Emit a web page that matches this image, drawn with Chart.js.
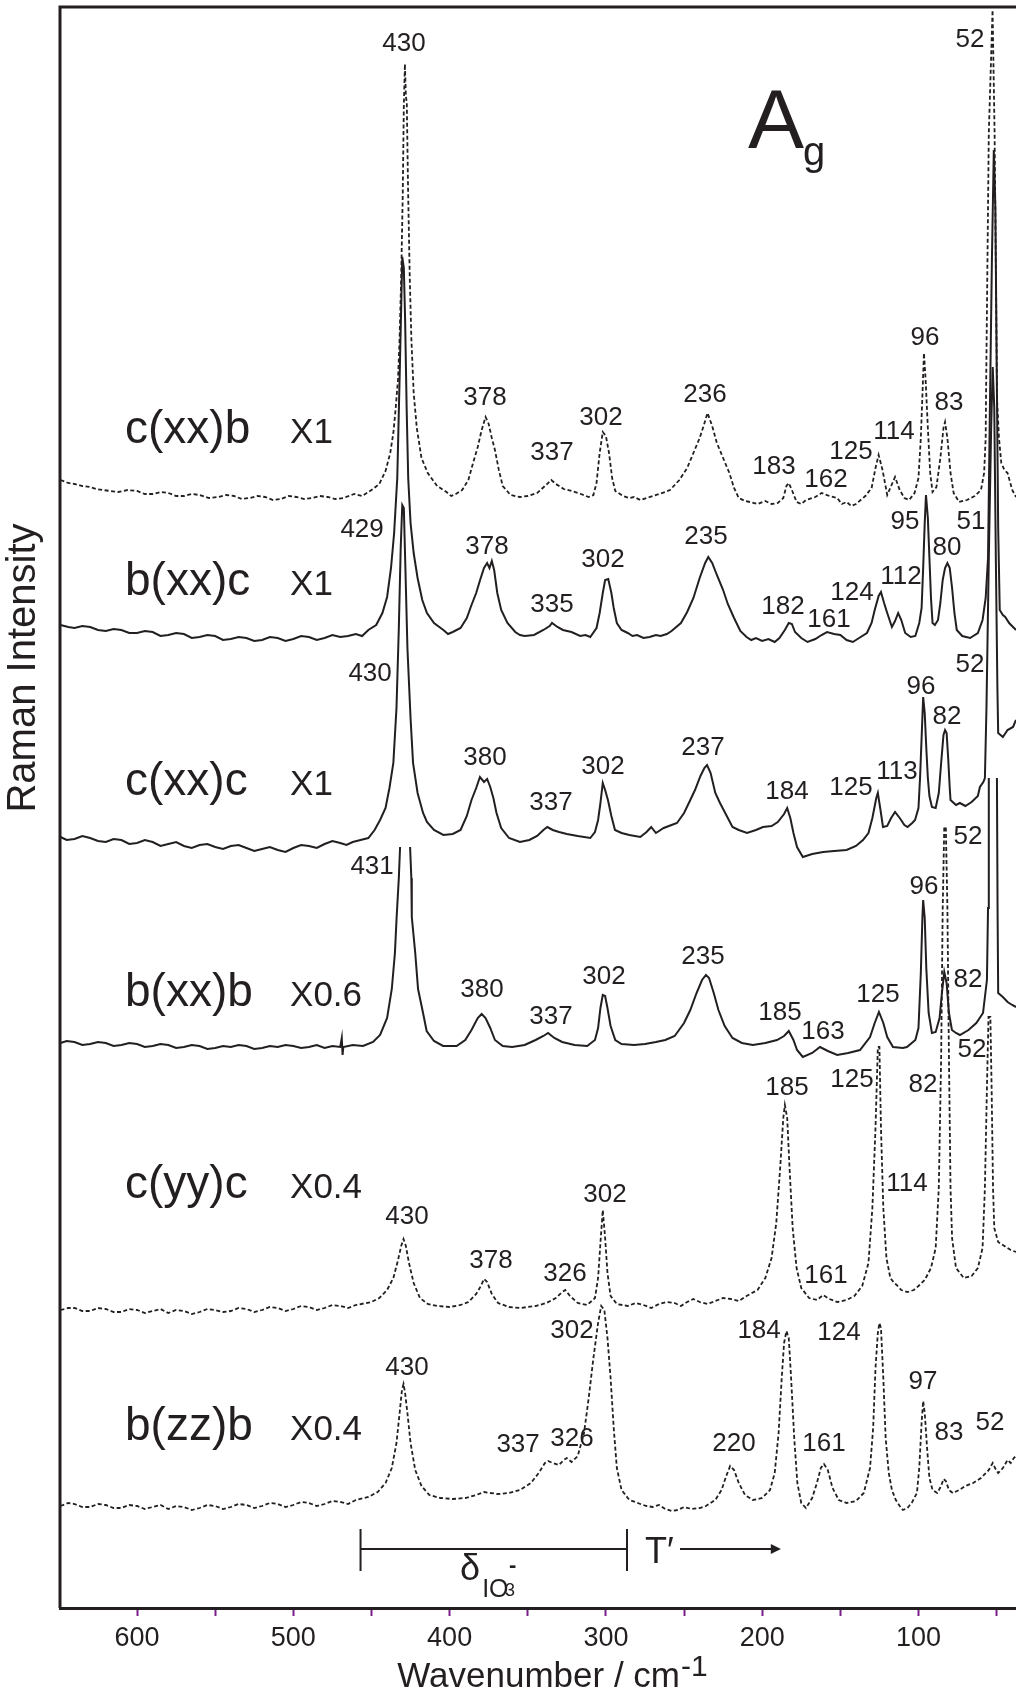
<!DOCTYPE html>
<html>
<head>
<meta charset="utf-8">
<script src="https://cdn.jsdelivr.net/npm/chart.js@4"></script>
<style>
  html, body { margin: 0; padding: 0; background: #fff; }
  #wrap { width: 1016px; height: 1693px; }
</style>
</head>
<body>
<div id="wrap"><canvas id="chart" width="1016" height="1693"></canvas></div>
<script>
// spectra as [wavenumber cm-1, intensity (offset, arb. units)]
const cxxb = [[649,1128],[644,1125],[640,1124],[635,1122],[630,1121],[626,1119],[622,1118],[617,1117],[612,1116],[606,1118],[600,1117],[595,1114],[590,1114],[585,1116],[580,1115],[575,1112],[570,1112],[565,1114],[560,1113],[554,1110],[548,1111],[543,1113],[538,1112],[533,1109],[528,1110],[523,1112],[518,1111],[513,1108],[508,1109],[503,1112],[498,1111],[493,1109],[488,1110],[483,1112],[478,1111],[473,1109],[468,1110],[461,1114],[456,1112],[450,1118],[445,1124],[441,1137],[438,1155],[436,1175],[434.5,1200],[433,1229],[432,1270],[431,1330],[430,1413],[429.3,1502],[428.6,1544],[428,1512],[427.4,1505],[426.6,1420],[425.5,1330],[424.5,1270],[423,1215],[421,1180],[418,1150],[414,1135],[408,1122],[402,1116],[399,1112],[396,1114],[392,1118],[388,1128],[385,1145],[382,1161],[379.5,1178],[377,1191],[375,1184],[373,1170],[371,1158],[368.5,1138],[366,1122],[361,1113],[355,1111],[350,1112],[344,1115],[339,1122],[335,1128],[332,1124],[327,1119],[322,1117],[316,1114],[311,1111],[308,1113],[306,1125],[304,1155],[302,1176],[300,1172],[298,1155],[296,1130],[294,1117],[289,1112],[285,1110],[282,1111],[278,1108],[274,1110],[270,1112],[266,1114],[262,1116],[259,1118],[253,1128],[248,1140],[244,1155],[240,1170],[237.5,1182],[235,1195],[232,1182],[229,1165],[225,1150],[221,1135],[218,1120],[215,1110],[211,1107],[208,1106],[203,1104],[198,1107],[194,1104],[190,1105],[186.5,1110],[184.5,1122],[183,1125],[181,1118],[178,1106],[175,1104],[172,1108],[166,1111],[162,1115],[157,1112],[152,1110],[149,1104],[146,1106],[143,1102],[140,1104],[134,1112],[130,1120],[127.5,1140],[125.5,1153],[123,1138],[120,1113],[117.5,1122],[115,1131],[112,1118],[109,1110],[106,1108],[102.5,1115],[100,1130],[98.5,1170],[97.3,1220],[96.5,1255],[95.5,1230],[94,1180],[92.5,1135],[91,1116],[88.5,1121],[86,1150],[84,1180],[83,1186],[81.5,1170],[79.5,1135],[77.5,1115],[74,1106],[69,1108],[64,1112],[60,1118],[58,1135],[57,1170],[56.8,1208],[55,1475],[52.6,1598],[51.3,1475],[49.7,1208],[48.5,1170],[47,1145],[45,1138],[43,1135],[40,1118],[37.6,1111]];

const bxxc = [[649,983],[644,981],[640,980],[635,982],[630,981],[625,978],[620,977],[615,979],[610,978],[605,975],[600,975],[595,977],[590,976],[585,972],[580,973],[575,975],[570,974],[565,970],[560,971],[555,973],[550,972],[545,968],[540,969],[535,971],[530,970],[525,967],[520,968],[515,971],[510,970],[505,967],[500,969],[495,972],[490,971],[485,968],[480,970],[475,973],[470,971],[465,972],[460,974],[456,972],[452,978],[447,983],[443,995],[440,1011],[437.5,1040],[435.5,1075],[433.5,1130],[432,1230],[431,1300],[430.3,1351],[429.3,1340],[428.5,1290],[427.5,1200],[426.5,1130],[425,1085],[423,1055],[420.5,1030],[417.5,1008],[414.5,995],[410,985],[404,978],[401,974],[398,976],[393,980],[389,990],[386,1003],[383,1015],[380.5,1028],[378,1040],[376,1045],[374.5,1040],[373,1047],[371.5,1038],[369.5,1015],[367,998],[363,985],[358,976],[355,973],[352,972],[346,973],[340,978],[336,982],[334.5,985],[331,981],[327.5,978],[322,976],[316.5,972],[313,973],[310,971],[306,980],[304,995],[302,1015],[300.5,1028],[298.5,1029],[296.5,1015],[295,1000],[293,985],[290,978],[286,975],[283,972],[280,973],[276,970],[272,971],[268,973],[265,972],[261,974],[258,977],[252,985],[248,996],[244,1010],[240,1030],[236.5,1045],[234.5,1051],[232,1045],[229,1033],[225,1018],[222,1004],[218,990],[214,977],[210,971],[207,968],[204,970],[200,967],[196,969],[192,966],[189,970],[185.5,978],[183,985],[181,984],[179,976],[175,970],[171,966],[166,969],[162,973],[158.5,976],[154,974],[150,973],[146,968],[142,966],[138,970],[133,975],[130,985],[128,998],[125.5,1012],[124,1016],[122,1005],[120,995],[117,981],[115,987],[113,995],[111,988],[108.5,975],[105,971],[102,972],[99.5,985],[98,1000],[97,1040],[96,1085],[95.2,1113],[94,1090],[93,1050],[92,1010],[91,985],[89.5,983],[87.5,988],[86,1005],[84.5,1028],[83,1040],[81.5,1045],[80,1040],[78.5,1020],[77,995],[75.5,978],[72,972],[67,970],[62,975],[59,988],[57,1010],[55.5,1050],[54.3,1200],[53,1350],[51.8,1458],[50.8,1400],[50,1250],[49,1080],[48,998],[46,993],[44.5,991],[42,985],[39.5,981],[37.6,978]];

const cxxc = [[649,771],[645,768],[640,769],[635,772],[630,770],[625,767],[620,766],[615,769],[610,768],[605,764],[600,765],[595,768],[590,766],[585,762],[580,764],[575,766],[570,762],[565,760],[560,763],[555,764],[550,761],[545,759],[540,762],[535,763],[530,760],[525,757],[520,759],[515,761],[510,758],[505,756],[500,760],[495,763],[490,762],[485,760],[480,764],[475,767],[470,765],[466,763],[462,766],[457,768],[452,770],[448,778],[444.5,788],[441,800],[438.5,820],[436,845],[434,900],[432.5,980],[431.3,1060],[430.3,1103],[429.3,1100],[428.3,1040],[427,960],[425,890],[423.4,845],[420.5,815],[417,795],[414.5,786],[410,778],[404,773],[398,774],[393,778],[389,792],[386,808],[383,820],[380.6,831],[378,826],[376,829],[374,821],[372,810],[370,795],[367,780],[362,770],[355,766],[349,768],[344,772],[340,778],[337.5,781],[334,778],[330,776],[325,774],[318,772],[310,770],[307,776],[305,788],[303.5,805],[302,825],[300.5,818],[298.7,808],[296.5,792],[294.2,778],[290,775],[285,773],[278,771],[274,776],[271,781],[268,775],[263,780],[258,783],[254.5,785],[250,795],[246,808],[243,818],[239.5,832],[237,840],[235.3,843],[233,835],[230,815],[227,805],[223,793],[219,781],[215,778],[209.7,775],[204,778],[199.5,781],[194,782],[190,786],[186,794],[184,800],[182,790],[180,775],[177.7,761],[174,751],[168,754],[161,756],[154,757],[146,758],[140,762],[135.5,768],[132,775],[129.5,790],[127,810],[126,815],[124.5,800],[122.7,781],[120,782],[117.5,790],[115,796],[112,790],[109,783],[107,781],[104,785],[102.2,788],[100,800],[99,830],[98,870],[97,911],[96,895],[95,860],[94,830],[93,812],[91.4,801],[89,800],[87,815],[85.5,845],[84,873],[83,878],[82,875],[81,850],[80,820],[79.5,808],[76,803],[73.5,805],[70,802],[66,806],[62,812],[60.7,821],[58.5,826],[57.5,830],[56.5,900],[55,1050],[53.5,1180],[52.5,1241],[51.5,1200],[50.5,1050],[49.5,920],[49,875],[47.5,873],[46,871],[43,878],[39.5,881],[37.6,888]];

const bxxb = [[649,565],[645,567],[640,566],[635,563],[630,564],[625,566],[620,565],[615,562],[610,563],[605,565],[600,564],[595,561],[590,562],[585,564],[580,563],[575,560],[570,561],[565,563],[560,562],[555,559],[550,560],[545,562],[540,561],[535,563],[530,562],[525,559],[520,560],[515,562],[510,561],[505,563],[500,562],[495,560],[490,561],[485,563],[480,560],[475,562],[470,561],[469,570],[468.5,553],[468,561],[462,563],[455.4,562],[449,566],[444.5,573],[440,590],[437,619],[435,655],[433.9,691],[432.5,730],[431.7,761],[431.6,null],[425.4,null],[425.3,761],[424.5,730],[424.2,691],[422,655],[420.2,619],[417,595],[414.7,577],[410,567],[404.2,562],[395.5,562],[390,568],[386,578],[382,590],[379.5,594],[377,590],[374,580],[371,568],[366,562],[360,561],[352,563],[345,568],[340,572],[337,575],[333,570],[328,566],[320,563],[312,562],[307,568],[305,580],[303.5,600],[302,613],[300.5,612],[299,600],[297,582],[294,568],[290,564],[282,563],[275,564],[268,566],[262,568],[256,572],[250,585],[246,598],[242,615],[238.5,628],[236,633],[234,630],[231,615],[228,598],[224,582],[219,570],[213,565],[206,563],[198,565],[190.5,568],[186,572],[183,577],[180,568],[177.7,558],[174,551],[168,555],[163,561],[158,557],[152,553],[145,555],[137.4,558],[131,571],[128,585],[125.3,596],[122.5,585],[120,571],[116.3,561],[110,560],[107.4,561],[102,568],[100,580],[98.5,635],[97.5,690],[97,708],[96,690],[95,640],[93.5,595],[91.4,575],[89,576],[86.5,590],[85,615],[83.5,636],[82,625],[80.5,595],[78.6,578],[76,575],[73.5,573],[68,578],[63,585],[58.7,595],[56.2,628],[55.5,700],[55,830],[54.9,null],[49.9,null],[49.8,830],[49.4,700],[49,615],[46,611],[43,606],[40,603],[37.6,601]];

const cyyc = [[649,298],[644,300],[640,300],[635,297],[630,297],[625,300],[620,299],[615,296],[610,296],[605,299],[600,298],[595,295],[590,297],[585,299],[580,295],[575,298],[570,297],[565,294],[560,296],[555,299],[550,298],[545,296],[540,297],[535,300],[530,299],[525,296],[520,298],[515,301],[510,300],[505,297],[500,299],[495,302],[490,301],[485,298],[480,300],[475,303],[470,302],[465,300],[460,303],[450,306],[445,310],[440,318],[436,330],[433,348],[431,362],[429.5,369],[428,362],[426,345],[423,325],[419,310],[414,304],[408,302],[400,301],[393,303],[388,306],[383,314],[380,322],[378,329],[376,326],[373,314],[369,305],[362,301],[355,300],[345,302],[338,305],[332,310],[328,316],[326,318],[323,312],[318,305],[312,303],[307,310],[305,330],[303.5,365],[302,398],[300.5,370],[299,335],[297,312],[293,304],[286,302],[281,305],[276,303],[271,300],[266,304],[261,306],[256,305],[252,302],[248,306],[244,309],[240,306],[235,304],[230,307],[225,310],[220,309],[215,307],[210,312],[203,318],[198,330],[194,350],[191,385],[188.5,440],[186.5,490],[185.5,503],[184,490],[182.5,440],[180.5,380],[178,340],[175,320],[170,310],[165,308],[161,313],[157,309],[152,306],[146,308],[141,312],[136,322],[132,345],[129.5,400],[127.5,480],[126,561],[125,561],[124,480],[122.5,400],[120.5,350],[118,330],[116,326],[114,323],[111,318],[107,316],[103,318],[100,322],[96,328],[92,340],[89,360],[87,420],[85.5,550],[84.5,700],[83.5,781],[82.5,781],[81.5,700],[80.5,550],[79.5,420],[78.5,370],[76,340],[71,330],[66,332],[62,340],[59,360],[57.5,420],[56.2,520],[55.2,591],[54,591],[53.2,520],[52.3,420],[51.5,380],[49,366],[45,362],[41,358],[37.6,356]];

const bzzb = [[649,102],[644,105],[640,104],[635,101],[630,101],[625,104],[620,103],[615,100],[610,100],[605,103],[600,102],[595,99],[590,101],[585,103],[580,99],[575,102],[570,101],[565,98],[560,100],[555,103],[550,102],[545,99],[540,101],[535,104],[530,103],[525,100],[520,102],[515,105],[510,104],[505,101],[500,103],[495,106],[490,105],[485,102],[480,104],[475,107],[470,106],[465,104],[460,108],[452,111],[446,116],[441,125],[437,140],[434,165],[432,195],[430.5,218],[429.5,224],[428.5,215],[427,195],[425,165],[422,138],[418,122],[413,113],[406,110],[398,109],[390,110],[383,113],[378,116],[374,115],[369,114],[362,115],[355,118],[348,125],[343,135],[339,145],[337,147],[334,145],[330,143],[327,148],[325,150],[322,146],[318,152],[314,175],[311,210],[308,250],[305,285],[303,302],[301,298],[299,270],[297,230],[295,180],[293,140],[290,118],[285,108],[281,106],[278,104],[274,102],[270,101],[266,103],[262,99],[258,97],[254,98],[250,101],[245,99],[240,100],[236,102],[230,108],[226,118],[223,132],[220.5,142],[218,138],[215,125],[211,113],[206,108],[200,110],[195,118],[192,135],[189.5,175],[187.5,230],[186,265],[184.5,277],[183,270],[181.5,230],[179.5,170],[177.5,125],[175,105],[172,100],[168,110],[165,125],[162.5,140],[160.5,144],[158,138],[155,120],[151,108],[146,105],[140,107],[135,115],[131,140],[129,180],[127.5,240],[126,275],[125,285],[124,280],[122.5,230],[121,170],[119,135],[117,118],[114.5,108],[112,102],[110,98],[107,100],[104,106],[101,115],[99.5,140],[98,185],[97,207],[96,195],[94.5,160],[93,130],[91,118],[88,115],[85.5,122],[84,129],[82.5,127],[80.5,118],[78,115],[74,118],[70,122],[65,125],[60,130],[55,138],[52.5,145],[51,140],[49,135],[46,140],[43,148],[41,145],[39,150],[37.6,152]];

// peak labels: [text, wavenumber, intensity] where the number is written
const peaksCxxb = [['430',429.2,1564],['378',377.4,1210],['337',334.5,1155],['302',303.1,1190],['236',236.6,1213],['183',192.5,1141],['162',159.2,1128],['125',143.2,1156],['114',115.7,1176],['96',95.8,1270],['83',80.5,1205],['52',67,1568]];
const peaksBxxc = [['429',456,1078],['378',376.1,1061],['335',334.5,1003],['302',301.9,1048],['235',236,1071],['182',186.7,1001],['161',157.3,988],['124',142.5,1015],['112',111.2,1031],['95',108.6,1086],['80',81.8,1060],['51',66.4,1086]];
const peaksCxxc = [['430',450.9,934],['380',377.4,850],['337',335.1,805],['302',301.9,841],['237',237.9,860],['184',184.1,816],['125',143.2,820],['113',113.8,836],['96',98.4,921],['82',81.8,891],['52',67,943]];
const peaksBxxb = [['431',449.6,741],['380',379.3,618],['337',335.1,591],['302',301.2,631],['235',237.9,651],['185',188.6,595],['163',161.1,576],['125',125.9,613],['96',96.5,721],['82',68.3,628],['52',68.3,771]];
const peaksCyyc = [['430',427.3,391],['378',373.5,347],['326',326.2,334],['302',300.6,413],['185',184.1,520],['161',159.2,332],['125',142.5,528],['114',107.4,424],['82',97.1,523],['52',65.8,558]];
const peaksBzzb = [['430',427.3,240],['337',356.2,163],['326',321.7,169],['302',321.7,277],['220',218,164],['184',202,277],['161',160.5,164],['124',150.9,275],['97',97.1,226],['83',80.5,175],['52',54.3,185]];

const geometries = ['c(xx)b','b(xx)c','c(xx)c','b(xx)b','c(yy)c','b(zz)b'];
const factors = ['X1','X1','X1','X0.6','X0.4','X0.4'];
const labelLevel = [1165,1013,813,602,410,168];
const spectra = [cxxb, bxxc, cxxc, bxxb, cyyc, bzzb];
const peakLabels = [peaksCxxb, peaksBxxc, peaksCxxc, peaksBxxb, peaksCyyc, peaksBzzb];
const dotted = [true, false, false, false, true, true];

const INK = '#231f20';
const FONT = '"Liberation Sans", Arial, sans-serif';

const annotate = {
  id: 'annotate',
  afterDraw(chart) {
    const { ctx, chartArea: a } = chart;
    const xs = chart.scales.x, ys = chart.scales.y;
    const px = w => xs.getPixelForValue(w);
    const py = v => ys.getPixelForValue(v);
    ctx.save();
    // frame
    ctx.strokeStyle = INK;
    ctx.lineWidth = 3;
    ctx.beginPath();
    ctx.moveTo(a.left, a.bottom);
    ctx.lineTo(a.left, a.top);
    ctx.lineTo(chart.width, a.top);
    ctx.stroke();

    ctx.fillStyle = INK;
    // peak positions
    ctx.font = '26px ' + FONT;
    ctx.textAlign = 'center';
    ctx.textBaseline = 'middle';
    peakLabels.forEach(list => list.forEach(([t, w, v]) => ctx.fillText(t, px(w), py(v))));

    // scattering geometry + scale factor
    ctx.textAlign = 'left';
    ctx.textBaseline = 'alphabetic';
    geometries.forEach((g, i) => {
      ctx.font = '46px ' + FONT;
      ctx.fillText(g, px(607.7), py(labelLevel[i]));
      ctx.font = '35px ' + FONT;
      ctx.fillText(factors[i], px(502.1), py(labelLevel[i]));
    });

    // symmetry label
    ctx.font = '84px ' + FONT;
    ctx.fillText('A', px(209.1), py(1460));
    ctx.font = '40px ' + FONT;
    ctx.fillText('g', px(173.9), py(1443));

    // region bracket
    ctx.lineWidth = 2;
    ctx.beginPath();
    ctx.moveTo(px(457), py(79)); ctx.lineTo(px(457), py(37));
    ctx.moveTo(px(286.5), py(79)); ctx.lineTo(px(286.5), py(37));
    ctx.moveTo(px(457), py(59)); ctx.lineTo(px(286.5), py(59));
    ctx.moveTo(px(252.6), py(59)); ctx.lineTo(px(193), py(59));
    ctx.stroke();
    ctx.beginPath();
    ctx.moveTo(px(188), py(59));
    ctx.lineTo(px(194.5), py(64));
    ctx.lineTo(px(194.5), py(54));
    ctx.closePath();
    ctx.fill();
    ctx.font = '36px ' + FONT;
    ctx.fillText('T\u2032', px(275), py(45));
    ctx.fillText('\u03B4', px(393.3), py(28));
    ctx.font = '25px ' + FONT;
    ctx.fillText('IO', px(379.2), py(11));
    ctx.font = '18px ' + FONT;
    ctx.fillText('3', px(364.5), py(12));
    ctx.font = 'bold 22px ' + FONT;
    ctx.fillText('-', px(362), py(36));

    // axis titles
    ctx.font = '35px ' + FONT;
    const main = 'Wavenumber / cm';
    const wMain = ctx.measureText(main).width;
    ctx.font = '30px ' + FONT;
    const wSup = ctx.measureText('-1').width;
    const x0 = 552 - (wMain + wSup) / 2;
    ctx.font = '35px ' + FONT;
    ctx.fillText(main, x0, 1687);
    ctx.font = '30px ' + FONT;
    ctx.fillText('-1', x0 + wMain + 1, 1676);

    ctx.translate(24, 668);
    ctx.rotate(-Math.PI / 2);
    ctx.textAlign = 'center';
    ctx.textBaseline = 'middle';
    ctx.font = '40px ' + FONT;
    ctx.fillText('Raman Intensity', 0, 0);
    ctx.restore();
  }
};

new Chart(document.getElementById('chart'), {
  type: 'line',
  data: {
    datasets: spectra.map((s, i) => ({
      data: s.map(([x, y]) => ({ x, y })),
      borderColor: INK,
      borderWidth: dotted[i] ? 1.8 : 2,
      borderDash: dotted[i] ? [4, 2.5] : [],
      pointRadius: 0,
      tension: 0,
      spanGaps: false
    }))
  },
  options: {
    responsive: false,
    animation: false,
    devicePixelRatio: 1,
    layout: { padding: { left: 60, top: 7, right: 0, bottom: 0 } },
    plugins: { legend: { display: false }, tooltip: { enabled: false } },
    scales: {
      x: {
        type: 'linear',
        reverse: true,
        min: 37.6,
        max: 649.3,
        afterFit: s => { s.height = 85; },
        border: { display: true, color: INK, width: 3 },
        grid: { drawOnChartArea: false, drawTicks: true, tickLength: 8, tickColor: '#7b1e8c', tickWidth: 2 },
        ticks: {
          stepSize: 50,
          includeBounds: false,
          autoSkip: false,
          maxRotation: 0,
          padding: 6,
          color: INK,
          font: { family: FONT, size: 27 },
          callback: v => (v % 100 === 0 ? String(v) : '')
        }
      },
      y: { display: false, min: 0, max: 1601 }
    }
  },
  plugins: [annotate]
});
</script>
</body>
</html>
